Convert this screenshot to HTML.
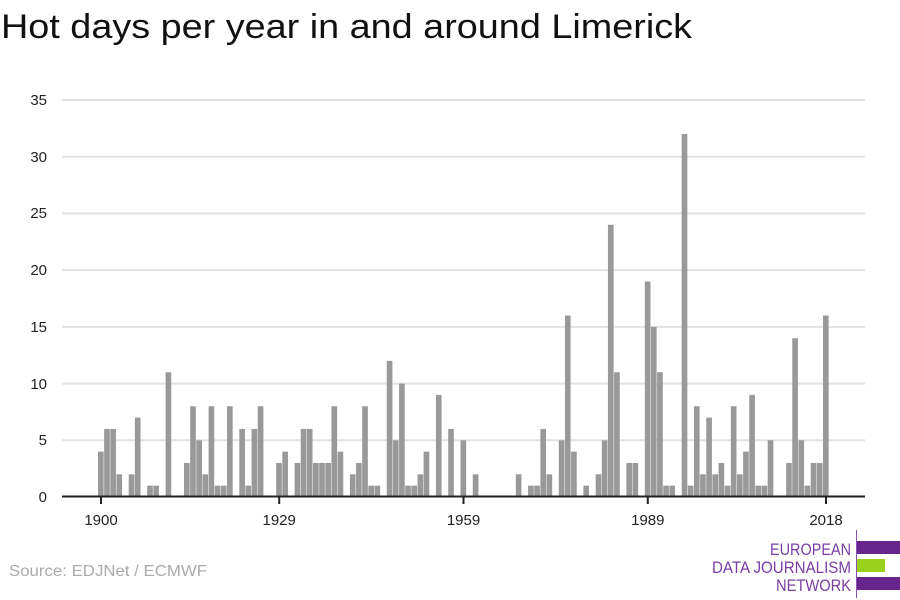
<!DOCTYPE html>
<html><head><meta charset="utf-8"><style>
html,body{margin:0;padding:0;background:#fff;}
svg{display:block;font-family:"Liberation Sans",sans-serif;}
</style></head><body>
<svg width="900" height="600" viewBox="0 0 900 600" xmlns="http://www.w3.org/2000/svg">
<text x="1" y="38" font-size="34" fill="#111" textLength="691" lengthAdjust="spacingAndGlyphs">Hot days per year in and around Limerick</text>
<g stroke="#e2e2e2" stroke-width="2">
<line x1="62" x2="865" y1="440.3" y2="440.3"/>
<line x1="62" x2="865" y1="383.6" y2="383.6"/>
<line x1="62" x2="865" y1="326.9" y2="326.9"/>
<line x1="62" x2="865" y1="270.1" y2="270.1"/>
<line x1="62" x2="865" y1="213.4" y2="213.4"/>
<line x1="62" x2="865" y1="156.7" y2="156.7"/>
<line x1="62" x2="865" y1="100" y2="100"/>
</g>
<g font-size="15" fill="#222" text-anchor="end">
<text x="47" y="502">0</text>
<text x="47" y="445">5</text>
<text x="47" y="389">10</text>
<text x="47" y="332">15</text>
<text x="47" y="275">20</text>
<text x="47" y="218">25</text>
<text x="47" y="162">30</text>
<text x="47" y="105">35</text>
</g>
<g transform="translate(98,497) scale(6.144,-11.343)" fill="#999">
<rect x="0" y="0" width="0.92" height="4"/>
<rect x="1" y="0" width="0.92" height="6"/>
<rect x="2" y="0" width="0.92" height="6"/>
<rect x="3" y="0" width="0.92" height="2"/>
<rect x="5" y="0" width="0.92" height="2"/>
<rect x="6" y="0" width="0.92" height="7"/>
<rect x="8" y="0" width="0.92" height="1"/>
<rect x="9" y="0" width="0.92" height="1"/>
<rect x="11" y="0" width="0.92" height="11"/>
<rect x="14" y="0" width="0.92" height="3"/>
<rect x="15" y="0" width="0.92" height="8"/>
<rect x="16" y="0" width="0.92" height="5"/>
<rect x="17" y="0" width="0.92" height="2"/>
<rect x="18" y="0" width="0.92" height="8"/>
<rect x="19" y="0" width="0.92" height="1"/>
<rect x="20" y="0" width="0.92" height="1"/>
<rect x="21" y="0" width="0.92" height="8"/>
<rect x="23" y="0" width="0.92" height="6"/>
<rect x="24" y="0" width="0.92" height="1"/>
<rect x="25" y="0" width="0.92" height="6"/>
<rect x="26" y="0" width="0.92" height="8"/>
<rect x="29" y="0" width="0.92" height="3"/>
<rect x="30" y="0" width="0.92" height="4"/>
<rect x="32" y="0" width="0.92" height="3"/>
<rect x="33" y="0" width="0.92" height="6"/>
<rect x="34" y="0" width="0.92" height="6"/>
<rect x="35" y="0" width="0.92" height="3"/>
<rect x="36" y="0" width="0.92" height="3"/>
<rect x="37" y="0" width="0.92" height="3"/>
<rect x="38" y="0" width="0.92" height="8"/>
<rect x="39" y="0" width="0.92" height="4"/>
<rect x="41" y="0" width="0.92" height="2"/>
<rect x="42" y="0" width="0.92" height="3"/>
<rect x="43" y="0" width="0.92" height="8"/>
<rect x="44" y="0" width="0.92" height="1"/>
<rect x="45" y="0" width="0.92" height="1"/>
<rect x="47" y="0" width="0.92" height="12"/>
<rect x="48" y="0" width="0.92" height="5"/>
<rect x="49" y="0" width="0.92" height="10"/>
<rect x="50" y="0" width="0.92" height="1"/>
<rect x="51" y="0" width="0.92" height="1"/>
<rect x="52" y="0" width="0.92" height="2"/>
<rect x="53" y="0" width="0.92" height="4"/>
<rect x="55" y="0" width="0.92" height="9"/>
<rect x="57" y="0" width="0.92" height="6"/>
<rect x="59" y="0" width="0.92" height="5"/>
<rect x="61" y="0" width="0.92" height="2"/>
<rect x="68" y="0" width="0.92" height="2"/>
<rect x="70" y="0" width="0.92" height="1"/>
<rect x="71" y="0" width="0.92" height="1"/>
<rect x="72" y="0" width="0.92" height="6"/>
<rect x="73" y="0" width="0.92" height="2"/>
<rect x="75" y="0" width="0.92" height="5"/>
<rect x="76" y="0" width="0.92" height="16"/>
<rect x="77" y="0" width="0.92" height="4"/>
<rect x="79" y="0" width="0.92" height="1"/>
<rect x="81" y="0" width="0.92" height="2"/>
<rect x="82" y="0" width="0.92" height="5"/>
<rect x="83" y="0" width="0.92" height="24"/>
<rect x="84" y="0" width="0.92" height="11"/>
<rect x="86" y="0" width="0.92" height="3"/>
<rect x="87" y="0" width="0.92" height="3"/>
<rect x="89" y="0" width="0.92" height="19"/>
<rect x="90" y="0" width="0.92" height="15"/>
<rect x="91" y="0" width="0.92" height="11"/>
<rect x="92" y="0" width="0.92" height="1"/>
<rect x="93" y="0" width="0.92" height="1"/>
<rect x="95" y="0" width="0.92" height="32"/>
<rect x="96" y="0" width="0.92" height="1"/>
<rect x="97" y="0" width="0.92" height="8"/>
<rect x="98" y="0" width="0.92" height="2"/>
<rect x="99" y="0" width="0.92" height="7"/>
<rect x="100" y="0" width="0.92" height="2"/>
<rect x="101" y="0" width="0.92" height="3"/>
<rect x="102" y="0" width="0.92" height="1"/>
<rect x="103" y="0" width="0.92" height="8"/>
<rect x="104" y="0" width="0.92" height="2"/>
<rect x="105" y="0" width="0.92" height="4"/>
<rect x="106" y="0" width="0.92" height="9"/>
<rect x="107" y="0" width="0.92" height="1"/>
<rect x="108" y="0" width="0.92" height="1"/>
<rect x="109" y="0" width="0.92" height="5"/>
<rect x="112" y="0" width="0.92" height="3"/>
<rect x="113" y="0" width="0.92" height="14"/>
<rect x="114" y="0" width="0.92" height="5"/>
<rect x="115" y="0" width="0.92" height="1"/>
<rect x="116" y="0" width="0.92" height="3"/>
<rect x="117" y="0" width="0.92" height="3"/>
<rect x="118" y="0" width="0.92" height="16"/>
</g>
<line x1="62" x2="865" y1="496.5" y2="496.5" stroke="#222" stroke-width="2"/>
<g stroke="#222" stroke-width="2">
<line x1="101" x2="101" y1="497" y2="504"/>
<line x1="279.2" x2="279.2" y1="497" y2="504"/>
<line x1="463.5" x2="463.5" y1="497" y2="504"/>
<line x1="647.8" x2="647.8" y1="497" y2="504"/>
<line x1="826" x2="826" y1="497" y2="504"/>
</g>
<g font-size="15" fill="#222" text-anchor="middle">
<text x="101" y="525">1900</text>
<text x="279.2" y="525">1929</text>
<text x="463.5" y="525">1959</text>
<text x="647.8" y="525">1989</text>
<text x="826" y="525">2018</text>
</g>
<text x="9" y="576" font-size="16" fill="#aaa" textLength="198" lengthAdjust="spacingAndGlyphs">Source: EDJNet / ECMWF</text>
<line x1="856.5" x2="856.5" y1="530" y2="598" stroke="#8a55b0" stroke-width="1"/>
<rect x="857" y="541" width="43" height="13" fill="#66248c"/>
<rect x="857" y="559" width="28" height="13" fill="#9ad11e"/>
<rect x="857" y="577" width="43" height="13" fill="#66248c"/>
<g font-size="17" fill="#7a3ea3">
<text x="770" y="555" textLength="81" lengthAdjust="spacingAndGlyphs">EUROPEAN</text>
<text x="712" y="573" textLength="139" lengthAdjust="spacingAndGlyphs">DATA JOURNALISM</text>
<text x="776" y="591" textLength="75" lengthAdjust="spacingAndGlyphs">NETWORK</text>
</g>
</svg>
</body></html>
